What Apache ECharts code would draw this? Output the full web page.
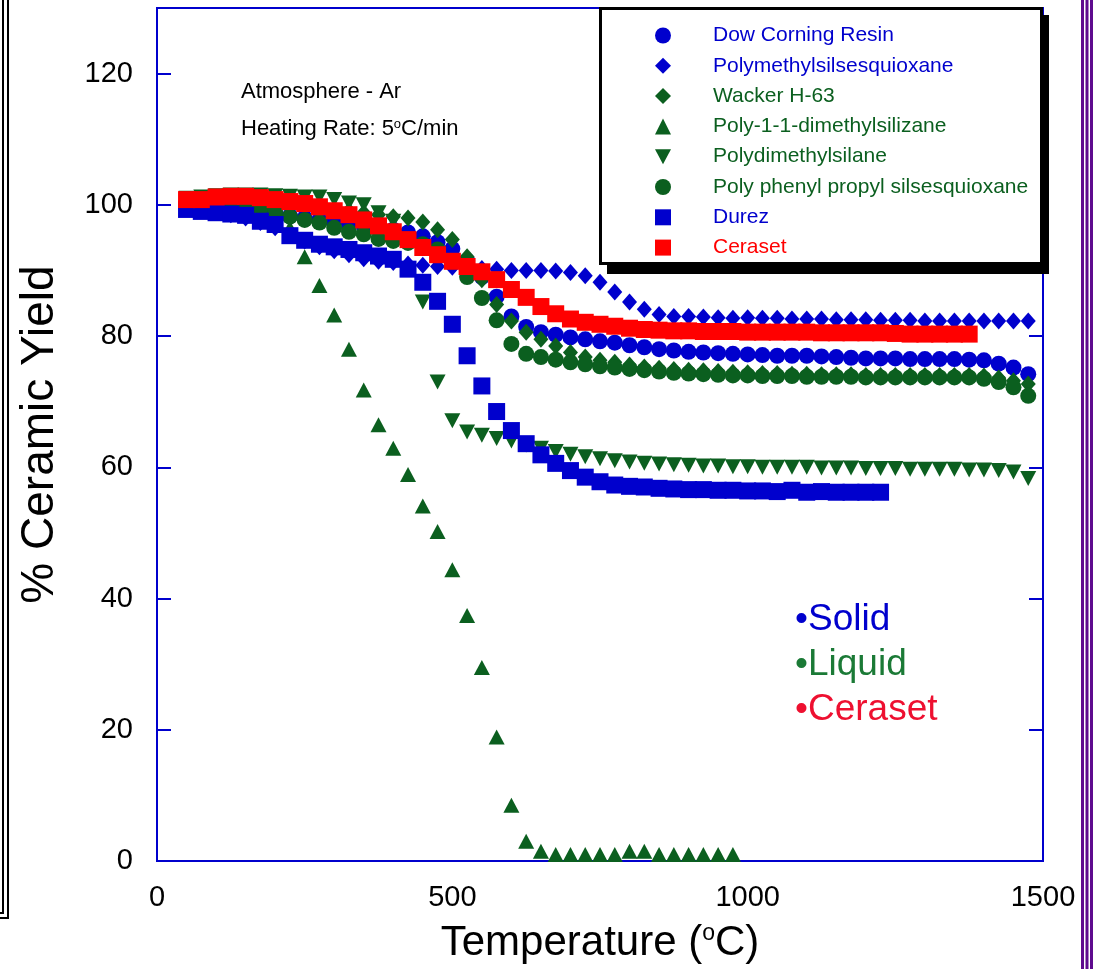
<!DOCTYPE html>
<html>
<head>
<meta charset="utf-8">
<title>Ceramic Yield</title>
<script src="https://cdn.jsdelivr.net/npm/echarts@6/dist/echarts.min.js"></script>
<style>
  html, body { margin: 0; padding: 0; background: #fff; }
  #chart { width: 1095px; height: 969px; }
</style>
</head>
<body>
<div id="chart"></div>
<script>
var BLUE = '#0000CD';
var GREEN = '#0B5F1F';
var RED = '#FF0000';
var SANS = "'Liberation Sans', Arial, sans-serif";
// downward triangle (legend does not pick up symbolRotate)
var TRI_DOWN = 'path://M0,0 L16,0 L8,15 Z';

// temperatures (C), one point every 25 degrees
var tempFull = [50, 75, 100, 125, 150, 175, 200, 225, 250, 275,
  300, 325, 350, 375, 400, 425, 450, 475, 500, 525,
  550, 575, 600, 625, 650, 675, 700, 725, 750, 775,
  800, 825, 850, 875, 900, 925, 950, 975, 1000, 1025,
  1050, 1075, 1100, 1125, 1150, 1175, 1200, 1225, 1250, 1275,
  1300, 1325, 1350, 1375, 1400, 1425, 1450, 1475];
var tempSilizane = [50, 75, 100, 125, 150, 175, 200, 225, 250, 275,
  300, 325, 350, 375, 400, 425, 450, 475, 500, 525,
  550, 575, 600, 625, 650, 675, 700, 725, 750, 775,
  800, 825, 850, 875, 900, 925, 950, 975];
var tempDurez = [50, 75, 100, 125, 150, 175, 200, 225, 250, 275,
  300, 325, 350, 375, 400, 425, 450, 475, 500, 525,
  550, 575, 600, 625, 650, 675, 700, 725, 750, 775,
  800, 825, 850, 875, 900, 925, 950, 975, 1000, 1025,
  1050, 1075, 1100, 1125, 1150, 1175, 1200, 1225];
var tempCeraset = [50, 75, 100, 125, 150, 175, 200, 225, 250, 275,
  300, 325, 350, 375, 400, 425, 450, 475, 500, 525,
  550, 575, 600, 625, 650, 675, 700, 725, 750, 775,
  800, 825, 850, 875, 900, 925, 950, 975, 1000, 1025,
  1050, 1075, 1100, 1125, 1150, 1175, 1200, 1225, 1250, 1275,
  1300, 1325, 1350, 1375];

// % ceramic yield
var dowCorning = [99.5, 99.3, 99.2, 99.0, 99.0, 98.8, 98.6, 98.3, 98.0, 97.7,
  97.4, 97.1, 96.8, 96.5, 96.2, 95.8, 95.2, 94.3, 93.3, 91.5,
  89.0, 86.0, 83.0, 81.4, 80.6, 80.2, 79.8, 79.5, 79.2, 79.0,
  78.6, 78.3, 78.0, 77.8, 77.6, 77.5, 77.4, 77.3, 77.2, 77.1,
  77.0, 77.0, 77.0, 76.9, 76.8, 76.7, 76.6, 76.6, 76.6, 76.5,
  76.5, 76.5, 76.5, 76.4, 76.3, 75.8, 75.2, 74.2];
var polymethyl = [99.5, 99.2, 99.0, 98.5, 98.0, 97.3, 96.5, 95.5, 94.5, 93.6,
  93.0, 92.4, 91.8, 91.4, 91.2, 91.0, 90.8, 90.6, 90.5, 90.4,
  90.3, 90.2, 90.0, 90.0, 90.0, 89.9, 89.7, 89.2, 88.2, 86.7,
  85.2, 84.1, 83.3, 83.0, 83.0, 82.9, 82.8, 82.7, 82.8, 82.7,
  82.7, 82.6, 82.6, 82.6, 82.5, 82.5, 82.5, 82.4, 82.4, 82.4,
  82.3, 82.3, 82.3, 82.3, 82.3, 82.3, 82.3, 82.3];
var wacker = [100.5, 100.8, 101.0, 101.0, 101.0, 100.8, 100.5, 100.2, 100.0, 99.7,
  99.4, 99.1, 98.8, 98.5, 98.2, 98.0, 97.4, 96.2, 94.7, 92.1,
  88.6, 84.8, 82.3, 80.6, 79.5, 78.5, 77.5, 76.8, 76.3, 76.0,
  75.6, 75.3, 75.1, 74.9, 74.8, 74.7, 74.6, 74.5, 74.4, 74.3,
  74.3, 74.2, 74.2, 74.1, 74.1, 74.1, 74.0, 74.0, 74.0, 74.0,
  74.0, 74.0, 74.0, 74.0, 73.9, 73.6, 73.2, 72.7];
var silizane = [100.5, 100.8, 101.0, 101.0, 100.8, 100.3, 99.0, 96.5, 92.1, 87.7,
  83.2, 78.0, 71.8, 66.5, 62.9, 58.9, 54.1, 50.2, 44.4, 37.4,
  29.5, 18.9, 8.5, 3.0, 1.5, 1.0, 1.0, 1.0, 1.0, 1.0,
  1.5, 1.5, 1.0, 1.0, 1.0, 1.0, 1.0, 1.0];
var dimethylsilane = [101.0, 101.2, 101.4, 101.5, 101.5, 101.5, 101.4, 101.3, 101.2, 101.2,
  100.8, 100.3, 100.0, 98.8, 97.5, 94.5, 85.2, 73.0, 67.1, 65.4,
  64.9, 64.4, 64.0, 63.4, 62.9, 62.4, 62.0, 61.6, 61.3, 61.0,
  60.8, 60.6, 60.5, 60.4, 60.3, 60.2, 60.2, 60.1, 60.1, 60.0,
  60.0, 60.0, 60.0, 59.9, 59.9, 59.9, 59.8, 59.8, 59.8, 59.7,
  59.7, 59.7, 59.7, 59.6, 59.6, 59.5, 59.3, 58.3];
var phenylPropyl = [100.2, 100.5, 100.5, 100.3, 100.0, 99.5, 99.0, 98.2, 97.7, 97.3,
  96.5, 95.9, 95.5, 94.8, 94.5, 94.2, 94.0, 93.2, 91.4, 89.0,
  85.8, 82.4, 78.8, 77.3, 76.8, 76.4, 76.0, 75.7, 75.4, 75.2,
  75.0, 74.8, 74.6, 74.4, 74.3, 74.2, 74.1, 74.0, 74.0, 73.9,
  73.9, 73.9, 73.8, 73.8, 73.8, 73.8, 73.7, 73.7, 73.7, 73.7,
  73.7, 73.7, 73.7, 73.7, 73.5, 73.0, 72.2, 70.9];
var durez = [99.3, 99.0, 98.8, 98.6, 98.4, 97.5, 97.0, 95.3, 94.6, 94.0,
  93.6, 93.2, 92.7, 92.2, 91.7, 90.2, 88.2, 85.3, 81.8, 77.0,
  72.4, 68.5, 65.6, 63.6, 61.9, 60.6, 59.5, 58.5, 57.8, 57.3,
  57.1, 57.0, 56.8, 56.7, 56.6, 56.6, 56.5, 56.5, 56.4, 56.4,
  56.3, 56.5, 56.2, 56.3, 56.2, 56.2, 56.2, 56.2];
var ceraset = [100.8, 100.8, 101.2, 101.3, 101.3, 101.1, 100.8, 100.5, 100.2, 99.7,
  99.1, 98.5, 97.7, 96.8, 95.9, 94.7, 93.5, 92.4, 91.4, 90.6,
  89.8, 88.6, 87.1, 85.9, 84.5, 83.4, 82.6, 82.1, 81.8, 81.5,
  81.2, 81.0, 80.9, 80.8, 80.8, 80.7, 80.7, 80.7, 80.6, 80.6,
  80.6, 80.6, 80.6, 80.5, 80.5, 80.5, 80.5, 80.5, 80.4, 80.3,
  80.3, 80.3, 80.3, 80.3];

var seriesDefs = [
  { name: 'Dow Corning Resin', t: tempFull, y: dowCorning, symbol: 'circle', size: 16, color: BLUE },
  { name: 'Polymethylsilsesquioxane', t: tempFull, y: polymethyl, symbol: 'diamond', size: [15, 17], color: BLUE },
  { name: 'Wacker H-63', t: tempFull, y: wacker, symbol: 'diamond', size: [15, 17], color: GREEN },
  { name: 'Poly-1-1-dimethylsilizane', t: tempSilizane, y: silizane, symbol: 'triangle', size: [16, 15], color: GREEN },
  { name: 'Polydimethylsilane', t: tempFull, y: dimethylsilane, symbol: TRI_DOWN, size: [16, 15], color: GREEN },
  { name: 'Poly phenyl propyl silsesquioxane', t: tempFull, y: phenylPropyl, symbol: 'circle', size: 16, color: GREEN },
  { name: 'Durez', t: tempDurez, y: durez, symbol: 'rect', size: 17, color: BLUE },
  { name: 'Ceraset', t: tempCeraset, y: ceraset, symbol: 'rect', size: 17, color: RED }
];

function pairs(t, y) {
  return t.map(function (v, i) { return [v, y[i]]; });
}

var chart = echarts.init(document.getElementById('chart'), null, { renderer: 'canvas' });

var yAxisBase = {
  type: 'value',
  min: 0,
  max: 130,
  interval: 20,
  axisLine: { show: false },
  axisTick: { show: true, inside: true, length: 14, lineStyle: { color: BLUE, width: 2 } },
  splitLine: { show: false }
};

chart.setOption({
  backgroundColor: '#fff',
  animation: false,
  grid: {
    left: 157, right: 52, top: 8, bottom: 104,
    show: true, borderColor: BLUE, borderWidth: 2, backgroundColor: 'transparent'
  },
  xAxis: {
    type: 'value',
    min: 0,
    max: 1500,
    interval: 500,
    axisLine: { show: false },
    axisTick: { show: false },
    splitLine: { show: false },
    axisLabel: {
      color: '#000', fontSize: 29, fontFamily: SANS, margin: 22,
      formatter: function (v) { return String(v); }
    },
    name: '{a|Temperature (}{s|o}{a|C)}',
    nameLocation: 'middle',
    nameGap: 61,
    nameTextStyle: {
      rich: {
        a: { fontSize: 42, fontFamily: SANS, color: '#000' },
        s: { fontSize: 23, fontFamily: SANS, color: '#000', verticalAlign: 'top' }
      }
    }
  },
  yAxis: [
    Object.assign({}, yAxisBase, {
      position: 'left',
      axisLabel: { color: '#000', fontSize: 29, fontFamily: SANS, margin: 24, showMaxLabel: false },
      name: '% Ceramic Yield',
      nameLocation: 'middle',
      nameRotate: 90,
      nameGap: 94,
      nameTextStyle: { fontSize: 46, fontFamily: SANS, color: '#000' }
    }),
    Object.assign({}, yAxisBase, {
      position: 'right',
      axisLabel: { show: false }
    })
  ],
  legend: {
    orient: 'vertical',
    left: 650,
    top: 20,
    itemWidth: 16,
    itemHeight: 16,
    itemGap: 9.3,
    selectedMode: false,
    z: 30,
    textStyle: { fontSize: 21, fontFamily: SANS, lineHeight: 20, padding: [0, 0, 0, 37] },
    data: seriesDefs.map(function (d) {
      return { name: d.name, textStyle: { color: d.color } };
    })
  },
  graphic: [
    // legend box with drop shadow
    { type: 'rect', z: 20, shape: { x: 607, y: 15, width: 442, height: 259 }, style: { fill: '#000' } },
    { type: 'rect', z: 21, shape: { x: 600.5, y: 8.5, width: 441, height: 255 }, style: { fill: '#fff', stroke: '#000', lineWidth: 3 } },
    // annotations
    { type: 'text', z: 20, left: 241, top: 81, style: { text: 'Atmosphere - Ar', fill: '#000', font: '22px ' + SANS } },
    {
      type: 'text', z: 20, left: 241, top: 118,
      style: {
        text: '{a|Heating Rate: 5}{s|o}{a|C/min}',
        rich: {
          a: { fontSize: 22, fontFamily: SANS, fill: '#000' },
          s: { fontSize: 13, fontFamily: SANS, fill: '#000', verticalAlign: 'top' }
        }
      }
    },
    { type: 'text', z: 20, left: 795, top: 601, style: { text: '\u2022Solid', fill: BLUE, font: '37px ' + SANS } },
    { type: 'text', z: 20, left: 795, top: 646, style: { text: '\u2022Liquid', fill: '#1B7A36', font: '37px ' + SANS } },
    { type: 'text', z: 20, left: 795, top: 691, style: { text: '\u2022Ceraset', fill: '#EE1030', font: '37px ' + SANS } },
    // slide frame lines
    { type: 'polyline', z: 20, shape: { points: [[3, 0], [3, 913], [0, 913]] }, style: { stroke: '#000', lineWidth: 2, fill: null } },
    { type: 'polyline', z: 20, shape: { points: [[8, 0], [8, 918], [0, 918]] }, style: { stroke: '#000', lineWidth: 2, fill: null } },
    { type: 'line', z: 20, shape: { x1: 1082.5, y1: 0, x2: 1082.5, y2: 969 }, style: { stroke: '#5E0A8E', lineWidth: 3 } },
    { type: 'line', z: 20, shape: { x1: 1087, y1: 0, x2: 1087, y2: 969 }, style: { stroke: '#5E0A8E', lineWidth: 3 } },
    { type: 'line', z: 20, shape: { x1: 1091.5, y1: 0, x2: 1091.5, y2: 969 }, style: { stroke: '#5E0A8E', lineWidth: 3 } }
  ],
  series: seriesDefs.map(function (d) {
    return {
      name: d.name,
      type: 'scatter',
      data: pairs(d.t, d.y),
      symbol: d.symbol,
      symbolSize: d.size,
      itemStyle: { color: d.color, opacity: 1 },
      emphasis: { disabled: true }
    };
  })
});
</script>
</body>
</html>
